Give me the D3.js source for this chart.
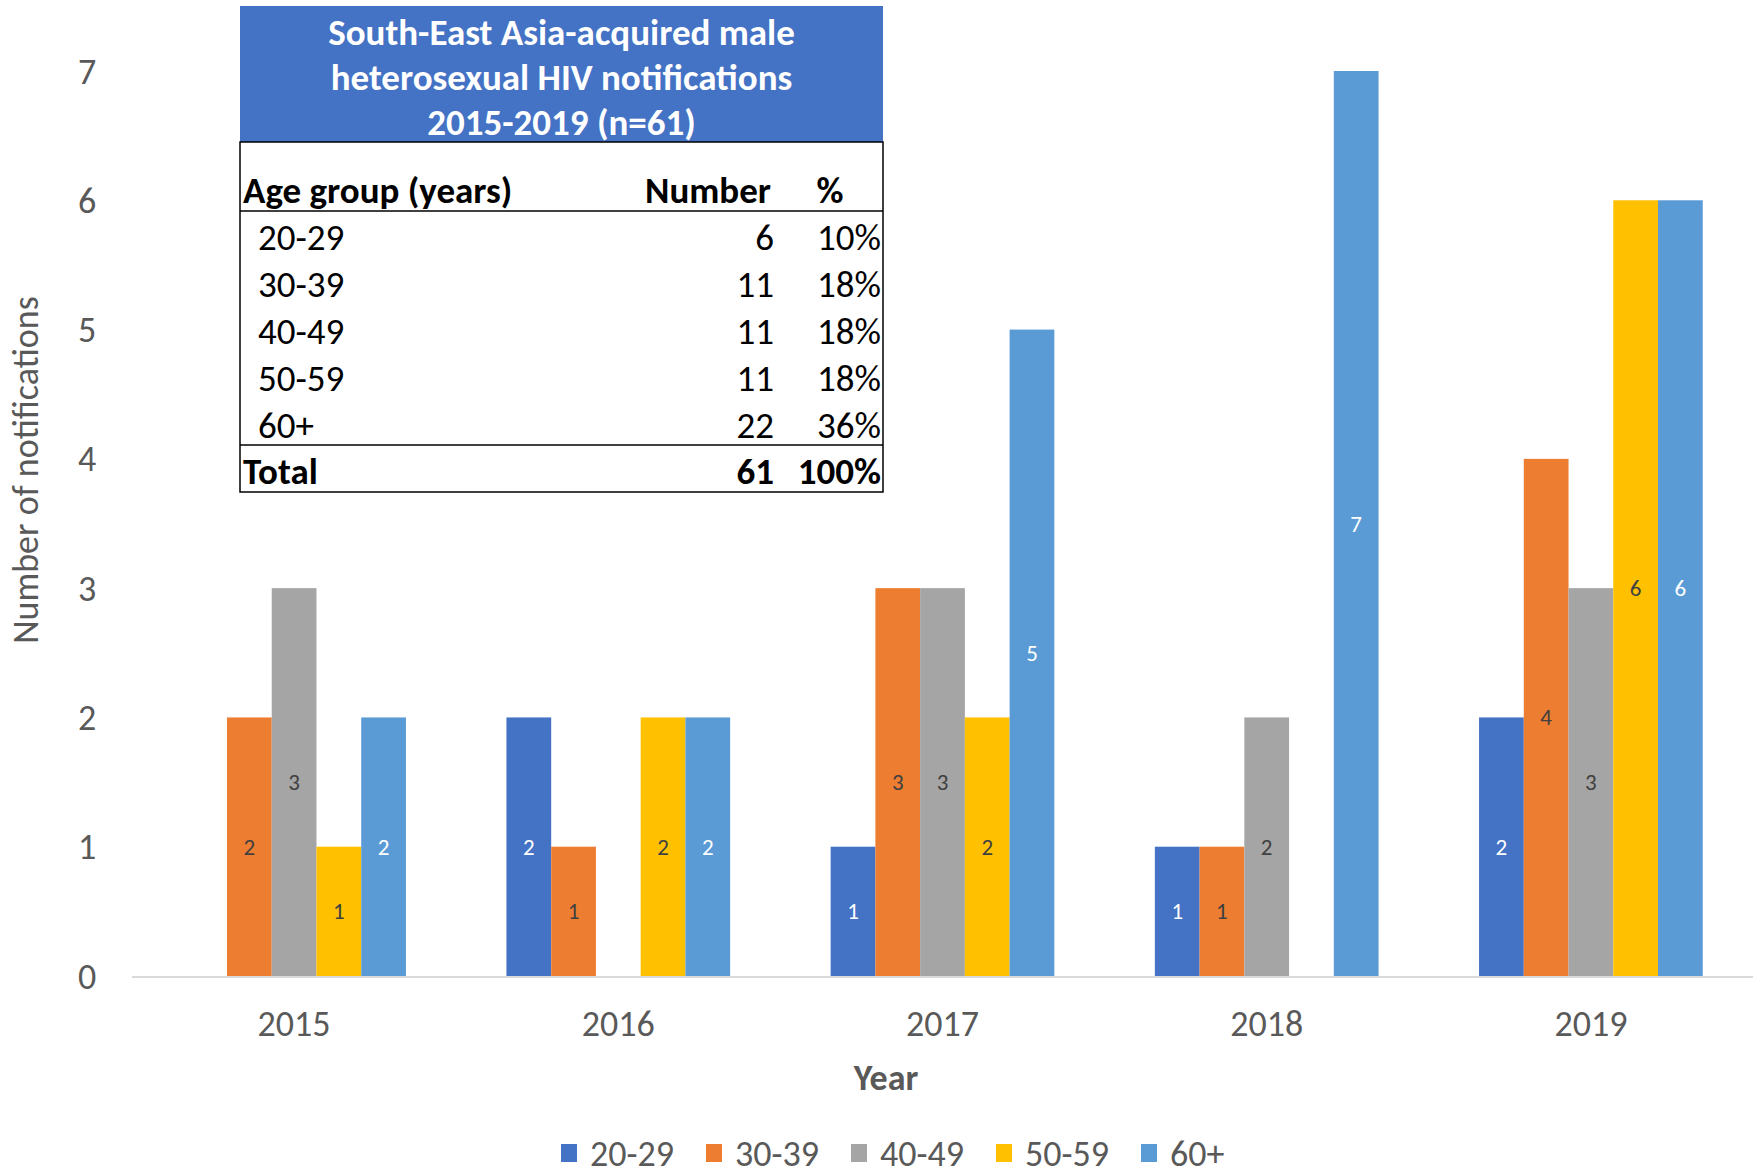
<!DOCTYPE html>
<html>
<head>
<meta charset="utf-8">
<script src="https://cdn.jsdelivr.net/npm/d3@7"></script>
<style>
  html, body { margin: 0; padding: 0; background: #fff; }
  svg { display: block; font-family: Carlito, Calibri, Lato, "Open Sans", sans-serif; }
</style>
</head>
<body>
<svg id="chart" width="1753" height="1174"></svg>
<script>
  // --- data ---
  const years = ["2015", "2016", "2017", "2018", "2019"];
  const groups = ["20-29", "30-39", "40-49", "50-59", "60+"];
  const colors = ["#4472C4", "#ED7D31", "#A5A5A5", "#FFC000", "#5B9BD5"];
  const labelColors = ["#fff", "#404040", "#404040", "#404040", "#fff"];
  const counts = {
    "20-29": [0, 2, 1, 1, 2],
    "30-39": [2, 1, 3, 1, 4],
    "40-49": [3, 0, 3, 2, 3],
    "50-59": [1, 2, 2, 0, 6],
    "60+":   [2, 2, 5, 7, 6]
  };
  const yTicks = [0, 1, 2, 3, 4, 5, 6, 7];

  const tableTitle = ["South-East Asia-acquired male", "heterosexual HIV notifications", "2015-2019 (n=61)"];
  const tableHead = ["Age group (years)", "Number", "%"];
  const tableNumbers = [6, 11, 11, 11, 22];
  const tablePct = ["10%", "18%", "18%", "18%", "36%"];
  const tableTotal = ["Total", 61, "100%"];

  const svg = d3.select("#chart");
  const plotL = 132, plotR = 1753, plotT = 71, plotB = 976;
  const axisFont = 36, tableFont = 37;

  const x = d3.scaleBand().domain(years).range([plotL, plotR]).paddingInner(0.31).paddingOuter(0.155);
  const xs = d3.scaleBand().domain(groups).range([0, x.bandwidth()]);
  const y = d3.scaleLinear().domain([0, 7]).range([plotB, plotT]);

  // y tick labels (no gridlines)
  svg.append("g")
    .selectAll("text")
    .data(yTicks)
    .join("text")
    .attr("x", 87)
    .attr("y", (d) => y(d))
    .attr("dy", "0.35em")
    .attr("text-anchor", "middle")
    .attr("fill", "#595959")
    .attr("font-size", axisFont)
    .text((d) => d);

  // bars
  const flat = [];
  groups.forEach((g, gi) => {
    years.forEach((yr, yi) => flat.push({ g, gi, yr, v: counts[g][yi] }));
  });

  svg.append("g")
    .selectAll("rect")
    .data(flat.filter((d) => d.v > 0))
    .join("rect")
    .attr("x", (d) => x(d.yr) + xs(d.g))
    .attr("y", (d) => y(d.v))
    .attr("width", xs.bandwidth())
    .attr("height", (d) => y(0) - y(d.v))
    .attr("fill", (d) => colors[d.gi]);

  svg.append("g")
    .selectAll("text")
    .data(flat.filter((d) => d.v > 0))
    .join("text")
    .attr("x", (d) => x(d.yr) + xs(d.g) + xs.bandwidth() / 2)
    .attr("y", (d) => y(d.v / 2))
    .attr("dy", "0.35em")
    .attr("text-anchor", "middle")
    .attr("font-size", 23)
    .attr("fill", (d) => labelColors[d.gi])
    .text((d) => d.v);

  // x axis line
  svg.append("line")
    .attr("x1", plotL).attr("x2", plotR)
    .attr("y1", plotB + 1).attr("y2", plotB + 1)
    .attr("stroke", "#d9d9d9")
    .attr("stroke-width", 2);

  svg.append("g")
    .selectAll("text")
    .data(years)
    .join("text")
    .attr("x", (d) => x(d) + x.bandwidth() / 2)
    .attr("y", 1023)
    .attr("dy", "0.35em")
    .attr("text-anchor", "middle")
    .attr("fill", "#595959")
    .attr("font-size", axisFont)
    .text((d) => d);

  // axis titles
  svg.append("text")
    .attr("x", 886).attr("y", 1077)
    .attr("dy", "0.35em")
    .attr("text-anchor", "middle")
    .attr("font-size", axisFont).attr("font-weight", "bold")
    .attr("fill", "#595959")
    .text("Year");

  svg.append("text")
    .attr("transform", "translate(25,470) rotate(-90)")
    .attr("dy", "0.35em")
    .attr("text-anchor", "middle")
    .attr("font-size", axisFont)
    .attr("fill", "#595959")
    .text("Number of notifications");

  // legend
  const leg = svg.append("g")
    .selectAll("g")
    .data(groups)
    .join("g")
    .attr("transform", (d, i) => `translate(${561 + i * 145},1153)`);
  leg.append("rect")
    .attr("x", 0).attr("y", -9).attr("width", 16).attr("height", 18)
    .attr("fill", (d, i) => colors[i]);
  leg.append("text")
    .attr("x", 29).attr("dy", "0.35em")
    .attr("font-size", axisFont).attr("fill", "#595959")
    .text((d) => d);

  // inset table
  const tx0 = 240, tx1 = 883;
  const tbl = svg.append("g");
  tbl.append("rect")
    .attr("x", tx0).attr("y", 6).attr("width", tx1 - tx0).attr("height", 136)
    .attr("fill", "#4472C4");
  tbl.append("rect")
    .attr("x", tx0).attr("y", 142).attr("width", tx1 - tx0).attr("height", 350)
    .attr("fill", "#fff").attr("stroke", "#000").attr("stroke-width", 1.5);
  tbl.selectAll("text.title")
    .data(tableTitle)
    .join("text")
    .attr("class", "title")
    .attr("x", (tx0 + tx1) / 2)
    .attr("y", (d, i) => 32 + i * 45)
    .attr("dy", "0.35em")
    .attr("text-anchor", "middle")
    .attr("font-size", 37).attr("font-weight", "bold")
    .attr("fill", "#fff")
    .text((d) => d);

  const hy = 190;
  tbl.append("text").attr("x", 243).attr("y", hy).attr("dy", "0.35em")
    .attr("font-size", tableFont).attr("font-weight", "bold").text(tableHead[0]);
  tbl.append("text").attr("x", 771).attr("y", hy).attr("dy", "0.35em")
    .attr("text-anchor", "end")
    .attr("font-size", tableFont).attr("font-weight", "bold").text(tableHead[1]);
  tbl.append("text").attr("x", 830).attr("y", hy).attr("dy", "0.35em")
    .attr("text-anchor", "middle")
    .attr("font-size", tableFont).attr("font-weight", "bold").text(tableHead[2]);
  tbl.append("line").attr("x1", tx0).attr("x2", tx1).attr("y1", 211).attr("y2", 211)
    .attr("stroke", "#000").attr("stroke-width", 1.5);

  const rowY = d3.scaleLinear().domain([0, 1]).range([237, 284]);
  const rows = tbl.selectAll("g.row")
    .data(groups)
    .join("g")
    .attr("class", "row")
    .attr("transform", (d, i) => `translate(0,${rowY(i)})`);
  rows.append("text").attr("x", 258).attr("dy", "0.35em").attr("font-size", tableFont)
    .text((d) => d);
  rows.append("text").attr("x", 774).attr("dy", "0.35em").attr("font-size", tableFont)
    .attr("text-anchor", "end").text((d, i) => tableNumbers[i]);
  rows.append("text").attr("x", 881).attr("dy", "0.35em").attr("font-size", tableFont)
    .attr("text-anchor", "end").text((d, i) => tablePct[i]);

  tbl.append("line").attr("x1", tx0).attr("x2", tx1).attr("y1", 445).attr("y2", 445)
    .attr("stroke", "#000").attr("stroke-width", 1.5);
  const ty = 471;
  tbl.append("text").attr("x", 243).attr("y", ty).attr("dy", "0.35em")
    .attr("font-size", tableFont).attr("font-weight", "bold").text(tableTotal[0]);
  tbl.append("text").attr("x", 774).attr("y", ty).attr("dy", "0.35em")
    .attr("text-anchor", "end")
    .attr("font-size", tableFont).attr("font-weight", "bold").text(tableTotal[1]);
  tbl.append("text").attr("x", 881).attr("y", ty).attr("dy", "0.35em")
    .attr("text-anchor", "end")
    .attr("font-size", tableFont).attr("font-weight", "bold").text(tableTotal[2]);
</script>
</body>
</html>
